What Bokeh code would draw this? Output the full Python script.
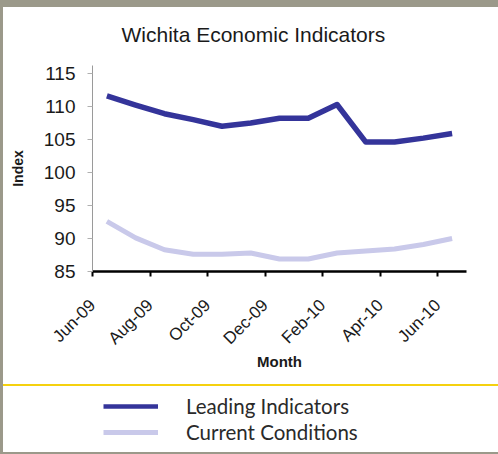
import math
from bokeh.plotting import figure
from bokeh.models import Range1d, FixedTicker, Legend, LegendItem
from bokeh.layouts import column
from bokeh.embed import file_html
from bokeh.resources import INLINE

# ---- data ----
months = ["Jun-09", "Jul-09", "Aug-09", "Sep-09", "Oct-09", "Nov-09", "Dec-09",
          "Jan-10", "Feb-10", "Mar-10", "Apr-10", "May-10", "Jun-10"]
leading = [111.6, 110.2, 108.9, 108.0, 107.0, 107.5, 108.2, 108.2, 110.3,
           104.6, 104.6, 105.2, 105.9]
current = [92.6, 90.1, 88.3, 87.6, 87.6, 87.8, 86.9, 86.9, 87.8,
           88.1, 88.4, 89.1, 90.0]
y_ticks = [85, 90, 95, 100, 105, 110, 115]
series_names = ["Leading Indicators", "Current Conditions"]
series_colors = ["#34349a", "#c9c9ea"]
title_text = "Wichita Economic Indicators"
x_title = "Month"
y_title = "Index"

FONT = "Liberation Sans"
GRAY = "#9b998a"
YELLOW = "#f5d10f"
xs = [i + 0.5 for i in range(len(months))]
tick_idx = list(range(0, len(months), 2))

p = figure(width=498, height=383, x_range=Range1d(0, len(months)),
           y_range=Range1d(85, 116.2), output_backend="svg",
           toolbar_location=None, min_border_left=92, min_border_right=32,
           min_border_top=65, min_border_bottom=112)
p.outline_line_color = None
p.xgrid.visible = False
p.ygrid.visible = False
p.background_fill_alpha = 0
p.border_fill_alpha = 0

p.title.text = title_text
p.title.align = "left"
p.title.offset = 29
p.title.text_font = FONT
p.title.text_font_size = "21px"
p.title.text_font_style = "normal"
p.title.text_color = "#1a1a1a"
p.title.standoff = 40

p.line(xs, leading, line_color=series_colors[0], line_width=5.5, line_join="round")
p.line(xs, current, line_color=series_colors[1], line_width=5, line_join="round")

xa = p.xaxis[0]
xa.ticker = FixedTicker(ticks=tick_idx)
xa.major_label_overrides = {i: months[i] for i in tick_idx}
xa.major_label_orientation = math.pi / 4
xa.major_label_text_font = FONT
xa.major_label_text_font_size = "17px"
xa.major_label_text_color = "#1a1a1a"
xa.major_label_standoff = 26
xa.axis_line_color = "black"
xa.axis_line_width = 2.5
xa.major_tick_line_color = "black"
xa.major_tick_line_width = 2
xa.major_tick_in = 0
xa.major_tick_out = 5
xa.minor_tick_line_color = None
xa.axis_label = x_title
xa.axis_label_text_font = FONT
xa.axis_label_text_font_size = "15px"
xa.axis_label_text_font_style = "bold"
xa.axis_label_text_color = "#1a1a1a"
xa.axis_label_standoff = -5

ya = p.yaxis[0]
ya.ticker = FixedTicker(ticks=y_ticks)
ya.major_label_text_font = FONT
ya.major_label_text_font_size = "19px"
ya.major_label_text_color = "#1a1a1a"
ya.axis_line_color = "#9a9a9a"
ya.axis_line_width = 1
ya.major_tick_line_color = "#b0b0b0"
ya.major_tick_in = 0
ya.major_tick_out = 5
ya.minor_tick_line_color = None
ya.major_label_standoff = 12
ya.axis_label = y_title
ya.axis_label_text_font = FONT
ya.axis_label_text_font_size = "14px"
ya.axis_label_text_font_style = "bold"
ya.axis_label_text_color = "#1a1a1a"
ya.axis_label_standoff = 15

# ---- legend strip ----
p2 = figure(width=498, height=71, x_range=Range1d(0, 1), y_range=Range1d(0, 1),
            output_backend="svg", toolbar_location=None, min_border=0,
            x_axis_type=None, y_axis_type=None)
p2.outline_line_color = None
p2.xgrid.visible = False
p2.ygrid.visible = False
p2.background_fill_alpha = 0
p2.border_fill_alpha = 0

nan = float("nan")
items = []
for name, col, lw in zip(series_names, series_colors, [4.5, 5]):
    r = p2.line(x=[nan], y=[nan], line_color=col, line_width=lw)
    items.append(LegendItem(label=name, renderers=[r]))
leg = Legend(items=items, location=(11, 10), glyph_width=55, glyph_height=20,
             label_height=20, label_standoff=28, spacing=2, padding=0, margin=0,
             border_line_color=None, background_fill_alpha=0,
             label_text_font="Lato", label_text_font_size="20.5px",
             label_text_color="#2a2a2a")
p2.add_layout(leg)

bg = (f"linear-gradient(to right, {GRAY} 0px, {GRAY} 3px, transparent 3px), "
      f"linear-gradient(to bottom, {GRAY} 0px, {GRAY} 7px, transparent 7px, "
      f"transparent 383.5px, {YELLOW} 383.5px, {YELLOW} 386px, transparent 386px, "
      f"transparent 452px, {GRAY} 452px)")
layout = column(p, p2, spacing=0,
                styles={"background": bg, "background-color": "#ffffff"})
open("out.html", "w").write(file_html(layout, INLINE))
